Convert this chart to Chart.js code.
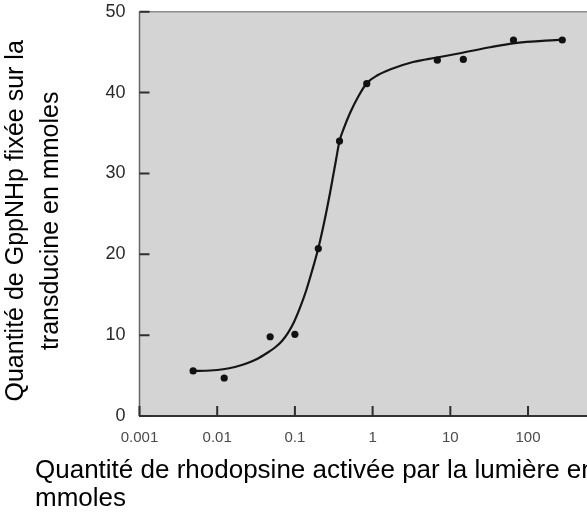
<!DOCTYPE html>
<html>
<head>
<meta charset="utf-8">
<script src="https://cdn.jsdelivr.net/npm/chart.js@4.4.1/dist/chart.umd.min.js"></script>
<style>
html,body{margin:0;padding:0;background:#fff;overflow:hidden;width:587px;height:513px;}
#wrap{position:absolute;left:0;top:0;width:604px;height:513px;}
</style>
</head>
<body>
<div id="wrap"><canvas id="c" width="604" height="513"></canvas></div>
<script>
// Measured points (x: activated rhodopsine, y: GppNHp bound)
const pointX = [0.0049, 0.0123, 0.048, 0.1, 0.2, 0.375, 0.84, 6.8, 14.7, 65, 276];
const pointY = [5.57, 4.7, 9.8, 10.1, 20.7, 34.0, 41.1, 44.0, 44.1, 46.5, 46.5];

// Hand-drawn fitted curve
const curveX = [0.0049, 0.0081, 0.0119, 0.0169, 0.0242, 0.0325, 0.0437, 0.0554, 0.0682, 0.0815, 0.0974, 0.116, 0.139, 0.166, 0.2, 0.237, 0.283, 0.338, 0.375, 0.428, 0.512, 0.649, 0.84, 1.17, 1.67, 3.31, 6.74, 13.3, 32.4, 64.1, 274];
const curveY = [5.57, 5.63, 5.78, 6.06, 6.52, 7.05, 7.79, 8.47, 9.28, 10.27, 11.63, 13.36, 15.46, 17.93, 20.74, 23.87, 27.58, 31.66, 34.0, 35.62, 37.47, 39.45, 41.15, 42.17, 42.85, 43.78, 44.34, 44.86, 45.6, 46.09, 46.54];

const xTickValues = [0.001, 0.01, 0.1, 1, 10, 100];
const xTickLabels = ['0.001', '0.01', '0.1', '1', '10', '100'];
const yTickValues = [0, 10, 20, 30, 40, 50];

const xTitle = ['Quantité de rhodopsine activée par la lumière en', 'mmoles'];
const yTitle = ['Quantité de GppNHp fixée sur la', 'transducine en mmoles'];

const FAMILY = '"Liberation Sans", Arial, Helvetica, sans-serif';

// plot-area background with its top and left frame lines
const plotBg = {
  id: 'plotBg',
  afterLayout(chart) {
    // the y-axis title sits a little below the centre of the plot in the original
    const ys = chart.scales.y;
    ys.top += 7;
    ys.bottom += 7;
  },
  beforeDraw(chart) {
    const {ctx, chartArea: a} = chart;
    ctx.save();
    ctx.fillStyle = '#d4d4d4';
    ctx.fillRect(a.left, a.top, a.right - a.left, a.bottom - a.top);
    ctx.strokeStyle = '#8a8a8a';
    ctx.lineWidth = 1.5;
    ctx.beginPath();
    ctx.moveTo(a.left, a.top);
    ctx.lineTo(a.right, a.top);
    ctx.stroke();
    ctx.strokeStyle = '#666';
    ctx.beginPath();
    ctx.moveTo(a.left, a.top);
    ctx.lineTo(a.left, a.bottom);
    ctx.stroke();
    ctx.restore();
  }
};

// inward-pointing tick marks, placed through the chart's own scales
const innerTicks = {
  id: 'innerTicks',
  afterDraw(chart) {
    const ctx = chart.ctx;
    const a = chart.chartArea;
    const sx = chart.scales.x;
    const sy = chart.scales.y;
    ctx.save();
    ctx.lineWidth = 2;
    ctx.strokeStyle = '#2e2e2e';
    ctx.beginPath();
    for (const v of xTickValues) {
      const px = sx.getPixelForValue(v);
      ctx.moveTo(px, a.bottom);
      ctx.lineTo(px, a.bottom - 10);
    }
    for (const v of yTickValues) {
      const py = sy.getPixelForValue(v);
      ctx.moveTo(a.left, py);
      ctx.lineTo(a.left + 10, py);
    }
    ctx.stroke();
    ctx.restore();
  }
};

new Chart(document.getElementById('c'), {
  type: 'scatter',
  data: {
    datasets: [
      {
        label: 'Mesures',
        data: pointX.map((x, i) => ({x: x, y: pointY[i]})),
        pointRadius: 3.6,
        pointBackgroundColor: '#111',
        pointBorderColor: '#111',
        pointBorderWidth: 0,
        showLine: false
      },
      {
        label: 'Courbe',
        data: curveX.map((x, i) => ({x: x, y: curveY[i]})),
        showLine: true,
        pointRadius: 0,
        borderColor: '#151515',
        borderWidth: 2.2,
        cubicInterpolationMode: 'monotone'
      }
    ]
  },
  options: {
    responsive: false,
    devicePixelRatio: 1,
    animation: false,
    layout: {padding: {left: 35, right: 5.8, top: 11.7, bottom: 0}},
    plugins: {
      legend: {display: false},
      tooltip: {enabled: false},
      title: {
        display: true,
        position: 'bottom',
        align: 'start',
        text: xTitle,
        color: '#000',
        font: {family: FAMILY, size: 26, weight: 'normal', lineHeight: 1.05},
        padding: {top: 0, bottom: 1}
      }
    },
    scales: {
      x: {
        type: 'logarithmic',
        position: 'bottom',
        min: 0.001,
        max: 800,
        afterBuildTicks: s => { s.ticks = xTickValues.map(v => ({value: v})); },
        afterFit: s => { s.height = 41.4; },
        ticks: {
          autoSkip: false,
          maxRotation: 0,
          callback: (v, i) => xTickLabels[i],
          font: {family: FAMILY, size: 15},
          color: '#4a4a4a',
          padding: 0
        },
        grid: {drawOnChartArea: false, drawTicks: true, tickLength: 12.5, tickColor: 'rgba(0,0,0,0)'},
        border: {color: '#333', width: 2}
      },
      y: {
        type: 'linear',
        position: 'left',
        min: 0,
        max: 50,
        afterBuildTicks: s => { s.ticks = yTickValues.map(v => ({value: v})); },
        afterFit: s => { s.width = 104.5; },
        ticks: {
          callback: v => String(v),
          font: {family: FAMILY, size: 18},
          color: '#2a2a2a',
          padding: 0
        },
        grid: {drawOnChartArea: false, drawTicks: true, tickLength: 14, tickColor: 'rgba(0,0,0,0)'},
        border: {display: false},
        title: {
          display: true,
          text: yTitle,
          color: '#000',
          font: {family: FAMILY, size: 25, lineHeight: 1.4},
          padding: {top: -36.8, bottom: 0}
        }
      }
    }
  },
  plugins: [plotBg, innerTicks]
});
</script>
</body>
</html>
